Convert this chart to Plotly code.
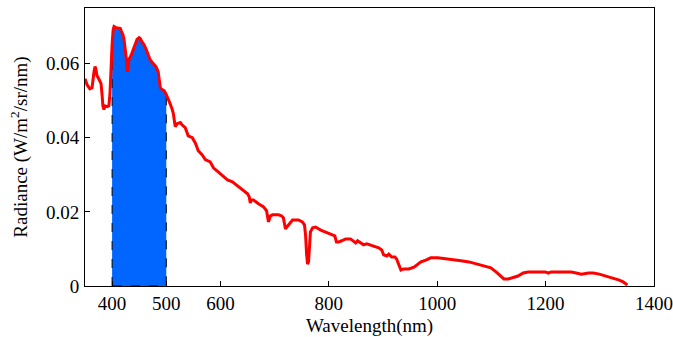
import numpy as np
import plotly.graph_objects as go

# Wavelength (nm) and radiance (W/m^2/sr/nm)
wavelength = [350, 353.7, 359, 363, 366.6, 368.5, 370, 372, 376, 379.6, 381.5, 383, 385, 387, 391, 394, 396, 398,
              400, 402, 403.6, 407, 411, 415, 416.6, 420, 422, 424, 426, 428, 429.5, 431, 435, 439, 442.5, 446,
              450, 452, 455, 459, 463, 466.5, 470, 474, 477.7, 481, 485, 487, 489, 492, 496, 500, 503.5, 507,
              511, 513, 516.5, 520, 526, 529, 535, 540.5, 548, 553.5, 559, 566, 572, 581, 587, 596, 603, 613,
              622, 631, 640, 650, 653, 655, 657, 661, 670, 679, 685, 687, 688.6, 692, 696, 707, 713, 716, 718,
              720, 724, 729, 733, 744, 751, 755, 757, 759, 760.7, 762.5, 764, 766, 770, 775.5, 785, 794, 803,
              811, 814, 818, 823.6, 831, 840, 846, 849.5, 853, 859, 864, 870, 881, 892, 897.6, 901, 907, 910.6,
              916, 922, 925, 929, 933, 938, 947.5, 957, 964, 970, 979, 988, 1001, 1014, 1029, 1044, 1058.6,
              1075, 1090, 1099, 1108.5, 1118, 1123, 1131, 1140, 1149, 1158.5, 1168, 1186, 1199, 1205, 1210,
              1229, 1247, 1256.5, 1266, 1279, 1288, 1299, 1312, 1325, 1336, 1343, 1351]
radiance = [0.0559, 0.0543, 0.0532, 0.0535, 0.0578, 0.0592, 0.0586, 0.0568, 0.0557, 0.0546, 0.0516, 0.0486,
            0.0476, 0.0486, 0.0484, 0.0486, 0.0516, 0.0597,
            0.0651, 0.0692, 0.0700, 0.0697, 0.0697, 0.0695, 0.0689, 0.0678, 0.0665, 0.0643, 0.0616, 0.0578,
            0.0589, 0.0611, 0.0622, 0.0638, 0.0651, 0.0665,
            0.0670, 0.0668, 0.0659, 0.0651, 0.0638, 0.0622, 0.0611, 0.0603, 0.0597, 0.0592, 0.0578, 0.0557,
            0.0535, 0.0530, 0.0527, 0.0516, 0.0505, 0.0492,
            0.0476, 0.0465, 0.0430, 0.0438, 0.0441, 0.0435, 0.0427, 0.0405, 0.0400, 0.0386, 0.0365, 0.0354,
            0.0341, 0.0335, 0.0319, 0.0308, 0.0297, 0.0286,
            0.0281, 0.0270, 0.0259, 0.0249, 0.0241, 0.0224, 0.0232, 0.0232, 0.0222, 0.0214, 0.0203, 0.0178,
            0.0173, 0.0189, 0.0192, 0.0192, 0.0189, 0.0184, 0.0168,
            0.0154, 0.0162, 0.0170, 0.0178, 0.0178, 0.0173, 0.0165, 0.0138, 0.0084, 0.0059, 0.0065, 0.0111,
            0.0146, 0.0157, 0.0159, 0.0151, 0.0146, 0.0141,
            0.0135, 0.0119, 0.0119, 0.0122, 0.0127, 0.0127, 0.0119, 0.0116, 0.0122, 0.0116, 0.0111, 0.0114,
            0.0108, 0.0103, 0.0097, 0.0084, 0.0081, 0.0086,
            0.0078, 0.0078, 0.0073, 0.0059, 0.0043, 0.0046, 0.0046, 0.0051, 0.0059, 0.0065, 0.0070, 0.0076,
            0.0076, 0.0073, 0.0070, 0.0068, 0.0065,
            0.0059, 0.0054, 0.0049, 0.0038, 0.0024, 0.0019, 0.0019, 0.0022, 0.0027, 0.0035, 0.0038, 0.0038,
            0.0038, 0.0035, 0.0038,
            0.0038, 0.0038, 0.0035, 0.0032, 0.0035, 0.0035, 0.0032, 0.0027, 0.0022, 0.0016, 0.0011, 0.0003]

band = [400, 500]
x_ticks = [400, 500, 600, 800, 1000, 1200, 1400]
y_ticks = [0, 0.02, 0.04, 0.06]
y_tick_text = ["0", "0.02", "0.04", "0.06"]

wl = np.array(wavelength)
rad = np.array(radiance)
mask = (wl > band[0]) & (wl < band[1])
fx = [band[0]] + list(wl[mask]) + [band[1]]
fy = [float(np.interp(band[0], wl, rad))] + list(rad[mask]) + [float(np.interp(band[1], wl, rad))]
poly_x = [band[0]] + fx + [band[1], band[0]]
poly_y = [0] + fy + [0, 0]

font = "Liberation Serif, Times New Roman, serif"

fig = go.Figure()
fig.add_trace(go.Scatter(x=poly_x, y=poly_y, fill="toself", fillcolor="#0066ff",
                         line=dict(color="black", width=1, dash="dash"), mode="lines",
                         hoverinfo="skip", showlegend=False))
fig.add_trace(go.Scatter(x=wavelength, y=radiance, mode="lines",
                         line=dict(color="#ff0000", width=3), showlegend=False))

fig.update_layout(
    width=673, height=337,
    margin=dict(l=85, r=19, t=8, b=51, autoexpand=False),
    paper_bgcolor="white", plot_bgcolor="white",
    font=dict(family=font, size=19, color="black"),
    showlegend=False,
)
fig.update_xaxes(range=[350, 1400], tickvals=x_ticks, ticks="inside", ticklen=5, tickcolor="black",
                 showgrid=False, zeroline=False, showline=True, linecolor="black", linewidth=1, mirror=True,
                 automargin=False,
                 title=dict(text="Wavelength(nm)", standoff=7, font=dict(size=19)),
                 tickfont=dict(size=19))
fig.update_yaxes(range=[0, 0.075], tickvals=y_ticks, ticktext=y_tick_text, ticks="inside", ticklen=5,
                 tickcolor="black", showgrid=False, zeroline=False, showline=True, linecolor="black",
                 linewidth=1, mirror=True, ticklabelstandoff=1, automargin=False,
                 title=dict(text="Radiance (W/m<sup>2</sup>/sr/nm)", standoff=13, font=dict(size=19)),
                 tickfont=dict(size=19))

fig.write_html("out.html", config={"displayModeBar": False},
               post_script="document.body.style.margin='0';")
